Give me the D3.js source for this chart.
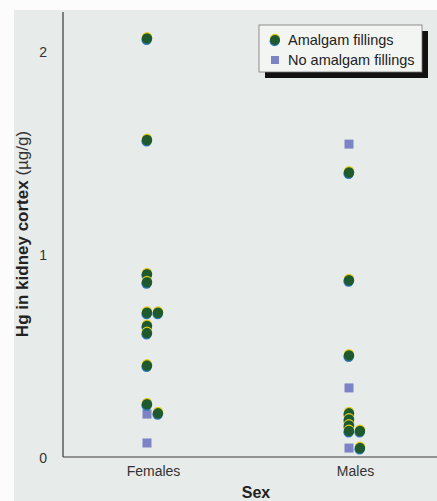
<!DOCTYPE html>
<html>
<head>
<meta charset="utf-8">
<script src="https://cdn.jsdelivr.net/npm/d3@7"></script>
<style>
  html, body { margin: 0; padding: 0; background: #fbfcfb; }
  svg { display: block; }
  text { font-family: "Liberation Sans Narrow", "Liberation Sans", Arial, sans-serif; fill: #333; }
</style>
</head>
<body>
<svg id="chart"></svg>
<script>
// data (Hg, µg/g)
const categories = ["Females", "Males"];
const femalesAmalgam = [2.06, 1.56, 0.90, 0.86, 0.71, 0.71, 0.645, 0.61, 0.45, 0.26, 0.215];
const femalesNoAmalgam = [0.211, 0.069];
const malesAmalgam = [1.40, 0.87, 0.50, 0.215, 0.185, 0.155, 0.128, 0.128, 0.044];
const malesNoAmalgam = [1.54, 0.34, 0.044];
const yTicks = [0, 1, 2];

const width = 437, height = 501;
const svg = d3.select("#chart").attr("width", width).attr("height", height);

// page tint of the scan
svg.append("rect")
  .attr("x", 14).attr("y", 10)
  .attr("width", width - 14).attr("height", height - 10)
  .attr("fill", "#e7ebea");

const x = d3.scalePoint().domain(categories).range([153, 355]);
const y = d3.scaleLinear().domain([0, 2.2]).range([457, 10]);

// axes: plain lines, no ticks
svg.append("line")
  .attr("x1", 63).attr("x2", 63)
  .attr("y1", y(2.2) + 2).attr("y2", y(0))
  .attr("stroke", "#3a3a3a").attr("stroke-width", 1.2);
svg.append("line")
  .attr("x1", 63).attr("x2", width)
  .attr("y1", y(0)).attr("y2", y(0))
  .attr("stroke", "#3a3a3a").attr("stroke-width", 1.2);

const yAxis = svg.append("g").attr("transform", "translate(63,0)")
  .call(d3.axisLeft(y).tickValues(yTicks).tickSize(0).tickPadding(16).tickFormat(d3.format("d")));
yAxis.select(".domain").remove();
yAxis.selectAll("text").style("font-size", "14px").attr("dy", "0.4em").style("fill", "#333");

const xAxis = svg.append("g").attr("transform", `translate(0,${y(0)})`)
  .call(d3.axisBottom(x).tickSize(0).tickPadding(9));
xAxis.select(".domain").remove();
xAxis.selectAll("text").style("font-size", "14px").style("fill", "#333");

// axis titles
const yTitle = svg.append("text")
  .attr("transform", "translate(28,234) rotate(-90)")
  .attr("text-anchor", "middle")
  .style("font-size", "17px");
yTitle.append("tspan").style("font-weight", "bold").style("fill", "#222").text("Hg in kidney cortex ");
yTitle.append("tspan").style("fill", "#333").text("(µg/g)");

svg.append("text")
  .attr("x", 256).attr("y", 498)
  .attr("text-anchor", "middle")
  .style("font-size", "16px").style("font-weight", "bold").style("fill", "#222")
  .text("Sex");

// build plotted points, dodging near-identical values sideways
function dodge(groups) {
  const placed = [];
  const out = [];
  groups.forEach(g => {
    g.values.forEach(v => {
      let col = 0;
      while (placed.some(p => p.cat === g.cat && p.col === col && Math.abs(y(p.v) - y(v)) < 3)) col++;
      placed.push({ cat: g.cat, col, v });
      out.push({ cat: g.cat, col, v, kind: g.kind });
    });
  });
  return out;
}

const points = dodge([
  { cat: "Females", kind: "none", values: femalesNoAmalgam },
  { cat: "Males", kind: "none", values: malesNoAmalgam },
  { cat: "Females", kind: "amalgam", values: femalesAmalgam },
  { cat: "Males", kind: "amalgam", values: malesAmalgam }
]);

const px = d => x(d.cat) - 6 + d.col * 11;

// squares first, circles over them
svg.append("g").selectAll("rect")
  .data(points.filter(d => d.kind === "none"))
  .join("rect")
  .attr("x", d => px(d) - 4.5).attr("y", d => y(d.v) - 4.5)
  .attr("width", 9).attr("height", 9)
  .attr("fill", "#7c84c6");

const circ = svg.append("g").selectAll("g")
  .data(points.filter(d => d.kind === "amalgam"))
  .join("g")
  .attr("transform", d => `translate(${px(d)},${y(d.v)})`);
// print misregistration: yellow fringe on top, blue below
circ.append("circle").attr("cy", -1.3).attr("r", 5.2).attr("fill", "#e2cc1c");
circ.append("circle").attr("cx", -0.4).attr("cy", 1.3).attr("r", 5.2).attr("fill", "#2b79b3");
circ.append("circle").attr("r", 5.2).attr("fill", "#1e5a2d");

// legend with drop shadow
const lg = svg.append("g").attr("transform", "translate(259,25)");
lg.append("rect").attr("x", 6).attr("y", 6).attr("width", 163).attr("height", 47).attr("fill", "#111");
lg.append("rect").attr("width", 163).attr("height", 47).attr("fill", "#f3f5f3").attr("stroke", "#777").attr("stroke-width", 0.8);

const lgItems = [
  { kind: "amalgam", label: "Amalgam fillings" },
  { kind: "none", label: "No amalgam fillings" }
];
const li = lg.selectAll("g.item").data(lgItems).join("g")
  .attr("class", "item")
  .attr("transform", (d, i) => `translate(16,${15 + i * 20})`);
li.filter(d => d.kind === "amalgam").each(function () {
  const g = d3.select(this);
  g.append("circle").attr("cy", -1.3).attr("r", 5).attr("fill", "#e2cc1c");
  g.append("circle").attr("cx", -0.4).attr("cy", 1.3).attr("r", 5).attr("fill", "#2b79b3");
  g.append("circle").attr("r", 5).attr("fill", "#1e5a2d");
});
li.filter(d => d.kind === "none").append("rect")
  .attr("x", -4).attr("y", -4).attr("width", 8).attr("height", 8).attr("fill", "#7c84c6");
li.append("text").attr("x", 13).attr("dy", "0.36em")
  .style("font-size", "14.5px").style("fill", "#222")
  .text(d => d.label);
</script>
</body>
</html>
